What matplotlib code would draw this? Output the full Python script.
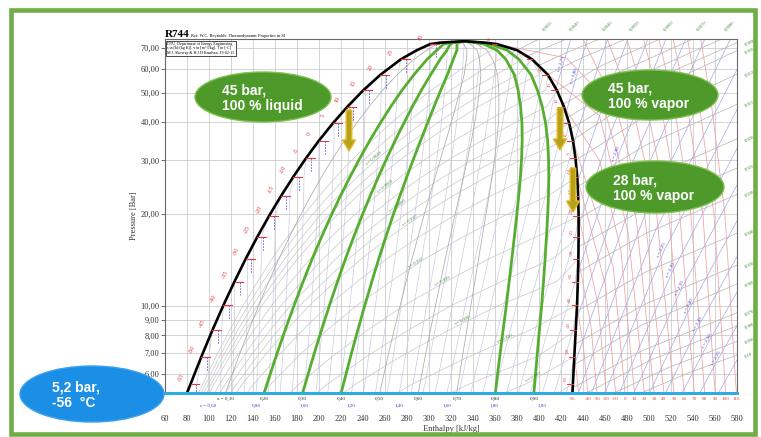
import numpy as np
import matplotlib.pyplot as plt
from matplotlib.patches import Ellipse, FancyArrow, Rectangle
from matplotlib.ticker import NullLocator
from matplotlib.transforms import blended_transform_factory

# R744 saturation table (IIR reference: h=200, s=1.00 for liquid at 0 C)
sat_t = [-56.56, -55, -50, -45, -40, -35, -30, -25, -20, -15, -10, -5, 0, 5, 10, 15, 20, 25, 28, 30, 30.5, 30.98]
sat_p = [5.18, 5.54, 6.82, 8.32, 10.05, 12.02, 14.28, 16.83, 19.70, 22.91, 26.49, 30.47, 34.85, 39.69, 45.02,
         50.87, 57.29, 64.34, 68.93, 72.14, 72.95, 73.77]
sat_hl = [80.0, 83.2, 93.1, 103.1, 113.1, 123.2, 133.4, 143.9, 154.5, 165.4, 176.6, 188.1, 200.0, 212.6, 225.9,
          240.1, 255.9, 274.4, 289.0, 301.0, 310.0, 332.3]
sat_hv = [430.4, 430.8, 432.1, 433.4, 434.6, 435.3, 435.8, 436.0, 436.0, 435.6, 434.7, 433.2, 430.9, 427.5, 422.6,
          416.3, 408.0, 393.7, 380.0, 362.0, 351.0, 332.3]
sat_sl = [0.510, 0.524, 0.569, 0.613, 0.657, 0.700, 0.742, 0.785, 0.827, 0.870, 0.913, 0.956, 1.000, 1.046, 1.093,
          1.143, 1.197, 1.260, 1.308, 1.348, 1.378, 1.435]
sat_sv = [2.127, 2.116, 2.088, 2.061, 2.036, 2.010, 1.986, 1.962, 1.939, 1.916, 1.894, 1.870, 1.845, 1.818, 1.788,
          1.754, 1.716, 1.660, 1.611, 1.549, 1.513, 1.435]
sat_vl = [0.000849, 0.000853, 0.000866, 0.000881, 0.000896, 0.000913, 0.000931, 0.000951, 0.000972, 0.000995,
          0.00102, 0.00105, 0.00108, 0.00112, 0.00116, 0.00122, 0.00130, 0.00142, 0.00153, 0.00168, 0.00180, 0.00214]
sat_vv = [0.0727, 0.0683, 0.0554, 0.0457, 0.0382, 0.0319, 0.0270, 0.0229, 0.0195, 0.0166, 0.0142, 0.0121, 0.0103,
          0.0088, 0.0075, 0.0063, 0.0052, 0.0042, 0.0035, 0.0030, 0.0027, 0.00214]

quality_x = [0.1, 0.2, 0.3, 0.4, 0.5, 0.6, 0.7, 0.8, 0.9]
quality_bold = [0.2, 0.3, 0.4, 0.8, 0.9]
wet_s = [0.55, 0.60, 0.65, 0.70, 0.75, 0.80, 0.85, 0.90, 0.95, 1.00, 1.05, 1.10, 1.15, 1.20, 1.25, 1.30, 1.35,
         1.40, 1.45, 1.50, 1.55, 1.60, 1.65, 1.70, 1.75, 1.80, 1.85, 1.90, 1.95, 2.00, 2.05, 2.10]
wet_v = [0.0030, 0.0035, 0.0040, 0.0045, 0.0050, 0.0060, 0.0070, 0.0080, 0.0090, 0.010, 0.012, 0.015, 0.020,
         0.025, 0.030, 0.040, 0.050, 0.060, 0.070]
wet_v_label = [0.004, 0.006, 0.008, 0.010, 0.015, 0.020, 0.030, 0.040, 0.060]
wet_v_label_p = [30.0, 24.3, 21.0, 18.8, 13.7, 11.9, 8.8, 7.7, 5.75]

# superheated isotherms (h, p pairs per temperature)
gas_t = [-50, -40, -30, -20, -10, 0, 10, 20, 30, 40, 50, 60, 70, 80, 90, 100, 110]
gas_t_h = [[436.0, 434.3, 432.1], [444.3, 440.6, 434.6], [452.7, 447.2, 435.8], [461.1, 453.7, 436.0],
           [469.6, 460.5, 434.7], [478.2, 467.5, 430.9], [486.9, 474.3, 455.0, 422.6],
           [495.7, 481.3, 455.0, 408.0], [504.6, 488.4, 455.0, 425.0, 362.0], [513.6, 496.0, 470.0, 440.0],
           [522.7, 507.0, 485.0, 462.0], [531.9, 518.0, 498.0, 480.0], [541.2, 528.0, 511.0, 495.0],
           [550.6, 538.0, 523.0, 509.0], [560.1, 549.0, 535.0, 522.0], [569.7, 559.0, 546.0, 535.0],
           [579.4, 569.0, 557.0, 547.0]]
gas_t_p = [[5.18, 5.94, 6.82], [5.18, 7.22, 10.05], [5.18, 8.60, 14.28], [5.18, 10.1, 19.70],
           [5.18, 11.7, 26.49], [5.18, 13.4, 34.85], [5.18, 15.3, 30.0, 45.02],
           [5.18, 17.2, 42.0, 57.29], [5.18, 19.3, 50.0, 65.0, 72.14], [5.18, 20.0, 45.0, 75.0],
           [5.18, 20.0, 45.0, 75.0], [5.18, 20.0, 45.0, 75.0], [5.18, 20.0, 45.0, 75.0],
           [5.18, 20.0, 45.0, 75.0], [5.18, 20.0, 45.0, 75.0], [5.18, 20.0, 45.0, 75.0],
           [5.18, 20.0, 45.0, 75.0]]

# superheated isentropes: start, middle, end
gas_s = [1.75, 1.80, 1.85, 1.90, 1.95, 2.00, 2.05, 2.10, 2.15, 2.20, 2.25, 2.30, 2.35, 2.40, 2.45, 2.50, 2.55, 2.60]
gas_s_h0 = [415.4, 424.6, 431.5, 435.0, 436.0, 435.5, 434.0, 431.5, 435.7, 447.6, 459.8, 473.0, 486.2, 500.3,
            514.9, 530.1, 546.1, 563.1]
gas_s_p0 = [51.5, 42.9, 34.0, 25.5, 18.3, 13.0, 9.0, 6.3, 5.18, 5.18, 5.18, 5.18, 5.18, 5.18, 5.18, 5.18, 5.18, 5.18]
gas_s_hm = [422.0, 434.0, 446.4, 456.6, 465.2, 472.0, 478.4, 483.7, 495.8, 505.7, 513.5, 521.6, 529.4, 537.6,
            545.7, 554.0, 562.6, 571.5]
gas_s_pm = [62.1, 56.7, 50.5, 43.7, 37.0, 31.2, 26.0, 21.7, 19.7, 17.57, 15.1, 13.04, 11.36, 9.91, 8.66, 7.59,
            6.67, 5.86]
gas_s_h1 = [429.0, 444.0, 462.4, 480.7, 499.0, 515.5, 533.4, 550.8, 574.0, 580, 580, 580, 580, 580, 580, 580,
            580, 580]
gas_s_p1 = [75, 75, 75, 75, 75, 75, 75, 75, 75, 59.6, 44.0, 32.8, 24.9, 19.0, 14.5, 11.1, 8.6, 6.64]
gas_s_label = [1.75, 1.80, 2.00, 2.05, 2.25, 2.30, 2.35, 2.40, 2.45, 2.50, 2.55]

# superheated isochores: start, middle, end
gas_v = [0.0035, 0.0040, 0.0045, 0.0050, 0.0060, 0.0070, 0.0080, 0.0090, 0.010, 0.012, 0.015, 0.020, 0.025,
         0.030, 0.040, 0.050, 0.060, 0.070, 0.080, 0.090, 0.10]
gas_v_h0 = [380.0, 389.0, 400.0, 408.0, 416.0, 422.0, 426.0, 428.6, 430.8, 433.4, 435.2, 436.0, 435.9, 435.5,
            434.3, 433.0, 431.6, 431.0, 443.0, 468.0, 493.0]
gas_v_p0 = [68.9, 65.8, 61.5, 57.4, 50.8, 45.8, 41.5, 38.0, 35.0, 30.0, 24.6, 19.3, 15.6, 12.9, 9.6, 7.5, 6.4,
            5.4, 5.18, 5.18, 5.18]
gas_v_hm = [390.0, 406.4, 426.1, 441.1, 458.3, 473.7, 485.8, 492.2, 492.8, 494.7, 496.5, 497.2, 497.2, 497.2,
            496.5, 495.6, 494.5, 494.9, 502.7, 518.8, 533.5]
gas_v_pm = [71.9, 70.25, 67.9, 65.6, 61.7, 58.6, 55.8, 52.7, 49.0, 41.5, 33.57, 26.1, 21.0, 17.3, 12.89, 10.1,
            8.69, 7.16, 6.67, 6.30, 5.98]
gas_v_h1 = [400.0, 425.0, 455.0, 479.0, 510.0, 540.0, 566.0, 580, 580, 580, 580, 580, 580, 580, 580, 580, 580,
            580, 580, 580, 580]
gas_v_p1 = [75, 75, 75, 75, 75, 75, 75, 73.0, 68.7, 57.5, 45.8, 35.3, 28.3, 23.2, 17.3, 13.6, 11.8, 9.5, 8.6,
            7.65, 6.9]

p_ticks = [6, 7, 8, 9, 10, 20, 30, 40, 50, 60, 70]
h_ticks = list(range(60, 581, 20))
s_bottom = [0.6, 0.8, 1.0, 1.2, 1.4, 1.6, 1.8, 2.0]

W, H = 761, 437
SERIF = ['Liberation Serif', 'DejaVu Serif']
SANS = ['Liberation Sans', 'DejaVu Sans']

P = np.array(sat_p)
hl, hv = np.array(sat_hl), np.array(sat_hv)
sl, sv = np.array(sat_sl), np.array(sat_sv)
vl, vv = np.array(sat_vl), np.array(sat_vv)

fig = plt.figure(figsize=(W / 100, H / 100), dpi=100)
ax = fig.add_axes([165 / W, 1 - 393 / H, (737 - 165) / W, (393 - 39) / H])
ax.set_yscale('log')
ax.set_xlim(60, 580)
ax.set_ylim(5.18, 75)


def comma(v, nd):
    return f"{v:.{nd}f}".replace('.', ',')


def vfmt(v):
    if v < 0.01:
        return comma(v, 4)
    if v < 0.1:
        return comma(v, 3)
    return comma(v, 2)


def angle(h, p, h2, p2):
    a = ax.transData.transform((h, p))
    b = ax.transData.transform((h2, p2))
    return np.degrees(np.arctan2(b[1] - a[1], b[0] - a[0]))


# grid
for h in h_ticks:
    ax.axvline(h, color='#c4c4c4', lw=0.5, zorder=0)
for p in p_ticks:
    ax.axhline(p, color='#c4c4c4', lw=0.5, zorder=0)

# two-phase isentropes and isochores (clipped to the dome)
wet = slice(0, -1)
for s in wet_s:
    xs = np.clip((s - sl[wet]) / (sv[wet] - sl[wet]), 0, 1)
    ax.plot(hl[wet] + xs * (hv[wet] - hl[wet]), P[wet], color='#c4c6df', lw=0.45, zorder=1)
for v in wet_v:
    xv = np.clip((v - vl[wet]) / (vv[wet] - vl[wet]), 0, 1)
    ax.plot(hl[wet] + xv * (hv[wet] - hl[wet]), P[wet], color='#c2c2c2', lw=0.45, zorder=1)

for v, pl in zip(wet_v_label, wet_v_label_p):
    xv = np.clip((v - vl[wet]) / (vv[wet] - vl[wet]), 0, 1)
    hh = hl[wet] + xv * (hv[wet] - hl[wet])
    lp = np.log(P[wet])
    h_at = np.interp(np.log(pl), lp, hh)
    h_up = np.interp(np.log(pl * 1.08), lp, hh)
    rot = angle(h_at, pl, h_up, pl * 1.08)
    ax.text(h_at, pl, "v= " + vfmt(v), fontsize=3.4, color='#3d8a3d', rotation=rot,
            rotation_mode='anchor', ha='center', va='bottom', family=SERIF, zorder=4)

# superheated region
for hs, ps in zip(gas_t_h, gas_t_p):
    ax.plot(hs, ps, color='#f0a0a0', lw=0.55, zorder=1)
for h0, p0, hm, pm, h1, p1 in zip(gas_s_h0, gas_s_p0, gas_s_hm, gas_s_pm, gas_s_h1, gas_s_p1):
    ax.plot([h0, hm, h1], [p0, pm, p1], color='#a7a9e4', lw=0.5, zorder=1)
for h0, p0, hm, pm, h1, p1 in zip(gas_v_h0, gas_v_p0, gas_v_hm, gas_v_pm, gas_v_h1, gas_v_p1):
    ax.plot([h0, hm, h1], [p0, pm, p1], color='#b4b4b4', lw=0.5, zorder=1)

for s, h0, p0, hm, pm, h1, p1 in zip(gas_s, gas_s_h0, gas_s_p0, gas_s_hm, gas_s_pm, gas_s_h1, gas_s_p1):
    if s in gas_s_label:
        rot = angle(h0, p0, h1, p1)
        ax.text(hm, pm, "s = " + comma(s, 2), fontsize=3.5, color='#3a3ad8', rotation=rot,
                rotation_mode='anchor', ha='center', va='bottom', family=SERIF, zorder=4)

# isochore labels where lines leave the frame
for v, h1, p1 in zip(gas_v, gas_v_h1, gas_v_p1):
    if p1 >= 75:
        ax.annotate(vfmt(v), (h1, p1), xytext=(2, 5), textcoords='offset points', fontsize=3.4,
                    color='#3d8a3d', rotation=45, ha='left', va='bottom', family=SERIF, annotation_clip=False)
    else:
        ax.annotate(vfmt(v), (h1, p1), xytext=(5, 0), textcoords='offset points', fontsize=3.4,
                    color='#3d8a3d', rotation=25, ha='left', va='center', family=SERIF, annotation_clip=False)

# quality lines
for x in quality_x:
    hq = hl + x * (hv - hl)
    if x in quality_bold:
        ax.plot(hq, P, color='#56ae30', lw=2.0, zorder=3, solid_capstyle='butt')
    else:
        ax.plot(hq, P, color='#ababab', lw=0.55, zorder=2)

# saturation dome
ax.plot(np.concatenate([hl, hv[::-1]]), np.concatenate([P, P[::-1]]), color='black', lw=1.9, zorder=5)

# saturation temperatures along both branches
for t, p, h_l, h_v in zip(sat_t, sat_p, sat_hl, sat_hv):
    if float(t).is_integer() and t % 5 == 0:
        ax.plot([h_l, h_l + 8], [p, p], color='#e8383a', lw=0.8, zorder=6)
        ax.plot([h_l + 5, h_l + 5], [p, p * 0.9], color='#5a5ae0', lw=0.6, ls=(0, (2, 1.5)), zorder=6)
        ax.annotate(f"{int(t)}", (h_l, p), xytext=(-7, 5), textcoords='offset points', fontsize=4.6,
                    color='#e8383a', rotation=65, ha='center', va='center', family=SERIF, zorder=6)
        ax.plot([h_v - 5, h_v], [p, p], color='#e8383a', lw=0.7, zorder=6)
        ax.annotate(f"{int(t)}", (h_v, p), xytext=(-5, 4), textcoords='offset points', fontsize=3.4,
                    color='#e8383a', rotation=90, ha='center', va='center', family=SERIF, zorder=6)

# axes styling
ax.set_yticks(p_ticks)
ax.yaxis.set_minor_locator(NullLocator())
ax.set_yticklabels([comma(p, 2) for p in p_ticks], family=SERIF, fontsize=6, color='#333333')
ax.set_xticks(h_ticks)
ax.set_xticklabels([str(h) for h in h_ticks], family=SERIF, fontsize=6, color='#333333')
ax.tick_params(axis='y', length=3, width=0.6, pad=1, color='#555555')
ax.tick_params(axis='x', length=0, pad=16)
for side in ['top', 'left', 'right']:
    ax.spines[side].set_color('#6a6a6a')
    ax.spines[side].set_linewidth(0.8)
ax.spines['bottom'].set_color('#2eaae4')
ax.spines['bottom'].set_linewidth(2.2)
ax.spines['bottom'].set_zorder(7)

# labels under the bottom line
bt = blended_transform_factory(ax.transData, ax.transAxes)
for i, x in enumerate(quality_x):
    hq = hl[0] + x * (hv[0] - hl[0])
    ax.text(hq, -0.016, ("x = " if i == 0 else "") + comma(x, 2), transform=bt, fontsize=3.6,
            ha='center', va='center', family=SERIF, color='#222222')
for i, s in enumerate(s_bottom):
    hs = hl[0] + (s - sl[0]) / (sv[0] - sl[0]) * (hv[0] - hl[0])
    ax.text(hs, -0.038, ("s = " if i == 0 else "") + comma(s, 2), transform=bt, fontsize=3.6,
            ha='center', va='center', family=SERIF, color='#3a3ad8')
ax.text(hv[0], -0.016, "-56", transform=bt, fontsize=3.6, ha='center', va='center',
        family=SERIF, color='#e8383a')
for t, hs in zip(gas_t, gas_t_h):
    if t != -50:
        ax.text(hs[0], -0.016, str(t), transform=bt, fontsize=3.6, ha='center', va='center',
                family=SERIF, color='#e8383a')

fig.text(451 / W, 1 - 429 / H, "Enthalpy [kJ/kg]", ha='center', va='center', fontsize=6,
         family=SERIF, color='#333333')
fig.text(134 / W, 1 - 216 / H, "Pressure [Bar]", ha='center', va='center', fontsize=6,
         rotation=90, family=SERIF, color='#333333')

# header
fig.text(165 / W, 1 - 37 / H, "R744", fontsize=8, weight='bold', family=SERIF, va='baseline')
fig.text(191 / W, 1 - 36.5 / H, "Ref: W.C. Reynolds: Thermodynamic Properties in SI", fontsize=3.2,
         family=SERIF, va='baseline')
ax.text(0.004, 0.992, "DTU, Department of Energy Engineering\n"
        "s in [kJ/(kg K)]. v in [m^3/kg]. T in [ºC]\nM.J. Skovrup & H.J.H Knudsen. 19-02-15",
        transform=ax.transAxes, fontsize=2.9, family=SERIF, va='top', ha='left', linespacing=1.1,
        bbox=dict(boxstyle='square,pad=0.25', fc='white', ec='black', lw=0.5), zorder=8)

# callouts
callouts = [
    ((263, 97), (136, 50), '#4d9a2a', "45 bar,\n100 % liquid", 222),
    ((650, 95), (136, 50), '#4d9a2a', "45 bar,\n100 % vapor", 608),
    ((655, 187), (138, 52), '#4d9a2a', "28 bar,\n100 % vapor", 613),
    ((92, 394), (144, 56), '#1b8fe6', "5,2 bar,\n-56  °C", 52),
]
for (cx, cy), (ew, eh), col, txt, tx in callouts:
    fig.add_artist(Ellipse((cx / W, 1 - cy / H), ew / W, eh / H, transform=fig.transFigure,
                           fc=col, ec='#7cc04e' if col != '#1b8fe6' else '#3aa0ee', lw=1.0, zorder=10))
    fig.text(tx / W, 1 - (cy + 1) / H, txt, fontsize=10, weight='bold', color='white', family=SANS,
             ha='left', va='center', linespacing=1.15, zorder=11)

# arrows (pixel positions, y measured from top)
for x0, y0, y1 in [(349, 110, 151), (560, 108, 150), (573, 168, 212)]:
    fig.add_artist(FancyArrow(x0 / 100, (H - y0) / 100, 0, -(y1 - y0) / 100, width=0.055,
                              head_width=0.13, head_length=0.11, length_includes_head=True,
                              transform=fig.dpi_scale_trans, fc='#b3a21c', ec='#e8b520', lw=1.0,
                              zorder=10))

# outer frame
fig.add_artist(Rectangle((10.5 / W, 1 - 434 / H), (755 - 10.5) / W, (434 - 9.5) / H,
                         transform=fig.transFigure, fill=False, ec='#70ad47', lw=3.3, zorder=12))

fig.savefig("out.png", dpi=100)
